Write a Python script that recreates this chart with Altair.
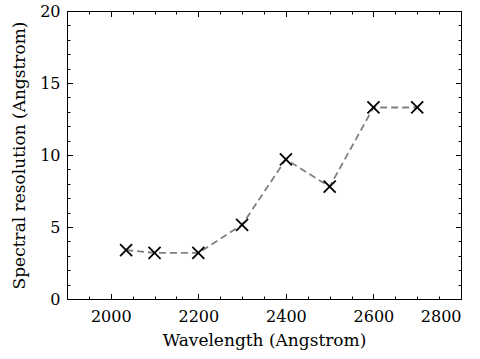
import altair as alt
import pandas as pd

# Data
wavelength = [2035, 2100, 2200, 2300, 2400, 2500, 2600, 2700]
resolution = [3.4, 3.2, 3.2, 5.15, 9.7, 7.8, 13.3, 13.3]

# Axis tick values
x_major = [2000, 2200, 2400, 2600, 2800]
x_ticks = list(range(1900, 2801, 50))
y_major = [0, 5, 10, 15, 20]
y_ticks = list(range(0, 21, 1))

df = pd.DataFrame({"w": wavelength, "r": resolution})

W, H = 394, 288
FONT = "DejaVu Serif"
FS = 16
TFS = 17

xs = alt.Scale(domain=[1900, 2800], nice=False, zero=False)
ys = alt.Scale(domain=[0, 20], nice=False, zero=False)

x_cond = {"condition": {"test": "datum.value % 200 === 0", "value": 5.5}, "value": 3}
y_cond = {"condition": {"test": "datum.value % 5 === 0", "value": 5.5}, "value": 3}

base = alt.Chart(df)

line = base.mark_line(color="#808080", strokeDash=[7, 4], strokeWidth=1.8).encode(
    x=alt.X("w:Q", scale=xs, axis=alt.Axis(
        orient="bottom", values=x_major, format="d", ticks=False, domain=False, grid=False,
        title="Wavelength (Angstrom)", labelPadding=9, titlePadding=8,
        labelFont=FONT, labelFontSize=FS, labelColor="black",
        titleFont=FONT, titleFontSize=TFS, titleFontWeight="normal", titleColor="black")),
    y=alt.Y("r:Q", scale=ys, axis=alt.Axis(
        orient="left", values=y_major, format="d", ticks=False, domain=False, grid=False,
        title="Spectral resolution (Angstrom)", labelPadding=7, titlePadding=11,
        labelFont=FONT, labelFontSize=FS, labelColor="black",
        titleFont=FONT, titleFontSize=TFS, titleFontWeight="normal", titleColor="black")),
)

points = base.mark_point(
    shape="M-1,-1L1,1M-1,1L1,-1", size=144, filled=False,
    color="black", strokeWidth=1.8, opacity=1,
).encode(
    x=alt.X("w:Q", scale=xs, axis=alt.Axis(
        orient="top", offset=-H, values=x_ticks, labels=False, domain=False,
        grid=False, title=None, tickSize=x_cond, tickColor="black", tickWidth=1)),
    y=alt.Y("r:Q", scale=ys, axis=alt.Axis(
        orient="right", offset=-W, values=y_ticks, labels=False, domain=False,
        grid=False, title=None, tickSize=y_cond, tickColor="black", tickWidth=1)),
)

ghost = base.mark_point(opacity=0).encode(
    x=alt.X("w:Q", scale=xs, axis=alt.Axis(
        orient="bottom", offset=-H, values=x_ticks, labels=False, domain=False,
        grid=False, title=None, tickSize=x_cond, tickColor="black", tickWidth=1)),
    y=alt.Y("r:Q", scale=ys, axis=alt.Axis(
        orient="left", offset=-W, values=y_ticks, labels=False, domain=False,
        grid=False, title=None, tickSize=y_cond, tickColor="black", tickWidth=1)),
)

chart = alt.layer(line, points, ghost).resolve_axis(
    x="independent", y="independent"
).properties(
    width=W, height=H,
    autosize=alt.AutoSizeParams(type="none"),
    padding={"left": 67, "top": 11, "right": 19, "bottom": 60},
    background="white",
).configure_view(stroke="black", strokeWidth=1)

chart.save("out.html", embed_options={"renderer": "svg", "actions": False})
